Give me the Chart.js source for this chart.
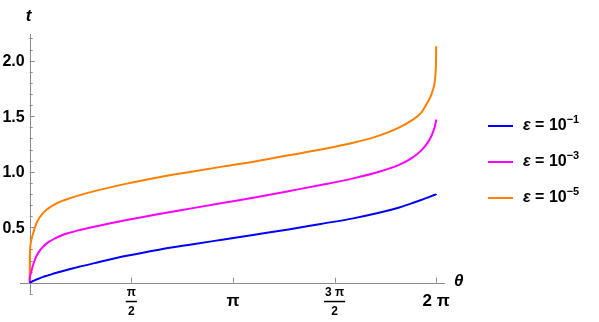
<!DOCTYPE html>
<html>
<head>
<meta charset="utf-8">
<script src="https://cdn.jsdelivr.net/npm/chart.js@4/dist/chart.umd.min.js"></script>
<style>
  html, body { margin: 0; padding: 0; background: #fff; }
  canvas { display: block; }
</style>
</head>
<body>
<canvas id="myChart" width="599" height="322"></canvas>
<script>
// data
const theta = [0, 0.001, 0.005, 0.02, 0.05, 0.1, 0.15, 0.2, 0.25, 0.3, 0.4, 0.5, 0.6, 0.75, 1.0, 1.5,
  2.0, 2.5, 3.0, 3.5, 4.0, 4.5, 5.0, 5.4, 5.7, 5.9, 6.05, 6.15, 6.2, 6.22, 6.24, 6.26, 6.275, 6.282, 6.2832];
const tEps1 = [0, 0.001, 0.003, 0.007, 0.016, 0.029, 0.04, 0.051, 0.061, 0.07, 0.088, 0.104, 0.119, 0.142,
  0.177, 0.243, 0.298, 0.345, 0.39, 0.435, 0.48, 0.53, 0.58, 0.63, 0.675, 0.715, 0.745, 0.767, 0.778,
  0.783, 0.788, 0.792, 0.796, 0.798, 0.8];
const tEps3 = [0, 0.03, 0.055, 0.09, 0.155, 0.235, 0.285, 0.32, 0.348, 0.37, 0.403, 0.428, 0.448, 0.472,
  0.505, 0.565, 0.62, 0.67, 0.72, 0.77, 0.825, 0.88, 0.94, 1.0, 1.06, 1.12, 1.19, 1.26, 1.31,
  1.335, 1.365, 1.4, 1.44, 1.46, 1.47];
const tEps5 = [0, 0.16, 0.28, 0.37, 0.44, 0.53, 0.585, 0.622, 0.652, 0.675, 0.71, 0.737, 0.757, 0.785,
  0.825, 0.893, 0.95, 1.0, 1.048, 1.095, 1.148, 1.2, 1.26, 1.325, 1.395, 1.46, 1.53, 1.625, 1.68,
  1.713, 1.75, 1.8, 1.9, 2.03, 2.13];

const seriesColors = ["#0000ff", "#ff00ff", "#ff8000"];
const legendBase = ["10", "10", "10"];
const legendExp = ["\u22121", "\u22123", "\u22125"];

const xTickValues = [Math.PI / 2, Math.PI, 3 * Math.PI / 2, 2 * Math.PI];
const xTickNum = ["\u03c0", "\u03c0", "3 \u03c0", "2 \u03c0"];
const xTickDen = ["2", "", "2", ""];
const yTickValues = [0.5, 1.0, 1.5, 2.0];
const yTickLabels = ["0.5", "1.0", "1.5", "2.0"];

const FONT = "'Liberation Sans', Arial, sans-serif";
const AXIS_COLOR = "#8c8c8c";

function toPoints(xs, ys) {
  return xs.map((x, i) => ({ x: x, y: ys[i] }));
}

// axes, ticks, labels and legend drawn like Mathematica
const axesPlugin = {
  id: "mmaAxes",
  beforeDatasetsDraw(chart) {
    const ctx = chart.ctx;
    const xs = chart.scales.x;
    const ys = chart.scales.y;
    const x0 = xs.getPixelForValue(0);
    const y0 = ys.getPixelForValue(0);
    ctx.save();
    ctx.strokeStyle = AXIS_COLOR;
    ctx.lineWidth = 1;
    // axis lines
    ctx.beginPath();
    ctx.moveTo(xs.left, Math.round(y0) + 0.5);
    ctx.lineTo(xs.right, Math.round(y0) + 0.5);
    ctx.moveTo(Math.round(x0) + 0.5, ys.top);
    ctx.lineTo(Math.round(x0) + 0.5, ys.bottom);
    ctx.stroke();
    // x ticks
    ctx.beginPath();
    xTickValues.forEach(v => {
      const px = Math.round(xs.getPixelForValue(v)) + 0.5;
      ctx.moveTo(px, y0);
      ctx.lineTo(px, y0 - 5);
    });
    // y ticks, minor every 0.1
    for (let k = -1; k <= 22; k++) {
      if (k === 0) continue;
      const py = Math.round(ys.getPixelForValue(k / 10)) + 0.5;
      const len = (k % 5 === 0) ? 5 : 3;
      ctx.moveTo(x0, py);
      ctx.lineTo(x0 + len, py);
    }
    ctx.stroke();

    ctx.fillStyle = "#000";
    // y tick labels
    ctx.font = "bold 16px " + FONT;
    ctx.textAlign = "right";
    ctx.textBaseline = "middle";
    yTickValues.forEach((v, i) => {
      ctx.fillText(yTickLabels[i], x0 - 5, ys.getPixelForValue(v) + 1);
    });
    // x tick labels
    ctx.textAlign = "center";
    xTickValues.forEach((v, i) => {
      const px = xs.getPixelForValue(v);
      if (xTickDen[i]) {
        ctx.font = "bold 12px " + FONT;
        ctx.fillText(xTickNum[i], px, y0 + 10);
        const w = ctx.measureText(xTickNum[i]).width + 2;
        ctx.fillRect(px - w / 2, y0 + 18, w, 1.5);
        ctx.fillText(xTickDen[i], px, y0 + 29);
      } else {
        ctx.font = "bold 17px " + FONT;
        ctx.fillText(xTickNum[i], px, y0 + 19);
      }
    });
    // axis names
    ctx.font = "italic bold 17px " + FONT;
    ctx.fillText("t", x0 - 1, 16);
    ctx.textAlign = "left";
    ctx.fillText("\u03b8", xs.right + 9, y0 - 1);
    ctx.restore();
  },
  afterDraw(chart) {
    const ctx = chart.ctx;
    ctx.save();
    chart.data.datasets.forEach((ds, i) => {
      const y = 126 + i * 36;
      ctx.strokeStyle = ds.borderColor;
      ctx.lineWidth = 2;
      ctx.beginPath();
      ctx.moveTo(488, y);
      ctx.lineTo(513, y);
      ctx.stroke();
      ctx.fillStyle = "#000";
      ctx.textBaseline = "middle";
      ctx.textAlign = "left";
      let x = 523;
      ctx.font = "italic bold 16px " + FONT;
      ctx.fillText("\u03b5", x, y);
      x += ctx.measureText("\u03b5").width;
      ctx.font = "bold 16px " + FONT;
      const mid = " = " + legendBase[i];
      ctx.fillText(mid, x, y);
      x += ctx.measureText(mid).width;
      ctx.font = "bold 11px " + FONT;
      ctx.fillText(legendExp[i], x, y - 6);
    });
    ctx.restore();
  }
};

const datasets = [tEps1, tEps3, tEps5].map((ys, i) => ({
  label: "\u03b5 = " + legendBase[i] + legendExp[i],
  data: toPoints(theta, ys),
  borderColor: seriesColors[i],
  backgroundColor: seriesColors[i],
  borderWidth: 2,
  pointRadius: 0,
  cubicInterpolationMode: "monotone",
  fill: false
}));

new Chart(document.getElementById("myChart"), {
  type: "line",
  data: { datasets: datasets },
  options: {
    responsive: false,
    animation: false,
    layout: { padding: { left: 20, top: 34, right: 154, bottom: 27 } },
    plugins: { legend: { display: false }, tooltip: { enabled: false } },
    scales: {
      x: { type: "linear", min: -0.15, max: 6.42, display: false },
      y: { type: "linear", min: -0.11, max: 2.24, display: false }
    }
  },
  plugins: [axesPlugin]
});
</script>
</body>
</html>
